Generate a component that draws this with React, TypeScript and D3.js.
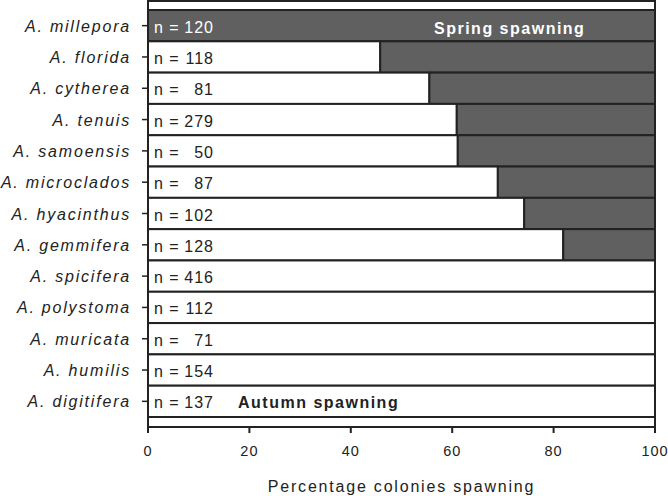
import React, { useEffect, useRef } from 'react';
import * as d3 from 'd3';

const species = [
  'A. millepora', 'A. florida', 'A. cytherea', 'A. tenuis', 'A. samoensis',
  'A. microclados', 'A. hyacinthus', 'A. gemmifera', 'A. spicifera',
  'A. polystoma', 'A. muricata', 'A. humilis', 'A. digitifera'
];
const nColonies = [120, 118, 81, 279, 50, 87, 102, 128, 416, 112, 71, 154, 137];
// percent of colonies spawning in autumn (white part), rest is spring
const autumnPct = [0, 45.8, 55.5, 60.9, 61.1, 69.0, 74.2, 81.9, 100, 100, 100, 100, 100];
const xTicks = [0, 20, 40, 60, 80, 100];

const FONT = 'Arial, "Liberation Sans", sans-serif';

export default function App() {
  const svgRef = useRef<SVGSVGElement>(null);

  useEffect(() => {
    const svg = d3.select(svgRef.current);
    svg.selectAll('*').remove();

    const x = d3.scaleLinear().domain([0, 100]).range([148, 655]);
    const y = d3.scaleBand().domain(species).range([10, 417]).padding(0);
    const top = 1, bottom = 427;

    // frame (thin strips above first row and below last row)
    svg.append('rect')
      .attr('x', x(0)).attr('y', top)
      .attr('width', x(100) - x(0)).attr('height', bottom - top)
      .attr('fill', '#fff').attr('stroke', '#222').attr('stroke-width', 2);

    const rows = svg.append('g').selectAll('g')
      .data(species)
      .enter().append('g');

    // autumn part (white)
    rows.append('rect')
      .attr('x', x(0))
      .attr('y', d => y(d)!)
      .attr('width', (d, i) => x(autumnPct[i]) - x(0))
      .attr('height', y.bandwidth())
      .attr('fill', '#fff')
      .attr('stroke', '#222').attr('stroke-width', 2);

    // spring part (dark)
    rows.filter((d, i) => autumnPct[i] < 100)
      .append('rect')
      .attr('x', (d) => x(autumnPct[species.indexOf(d)]))
      .attr('y', d => y(d)!)
      .attr('width', (d) => x(100) - x(autumnPct[species.indexOf(d)]))
      .attr('height', y.bandwidth())
      .attr('fill', '#606060')
      .attr('stroke', '#222').attr('stroke-width', 2);

    // n labels
    const nLab = rows.append('g')
      .attr('font-family', FONT).attr('font-size', 16)
      .attr('letter-spacing', 1)
      .attr('fill', (d, i) => autumnPct[i] === 0 ? '#fff' : '#222');
    nLab.append('text')
      .attr('x', 154)
      .attr('y', d => y(d)! + y.bandwidth() / 2 + 7)
      .text('n =');
    nLab.append('text')
      .attr('x', 214).attr('text-anchor', 'end')
      .attr('y', d => y(d)! + y.bandwidth() / 2 + 7)
      .text((d, i) => nColonies[i]);

    // left axis
    svg.append('line')
      .attr('x1', x(0)).attr('x2', x(0))
      .attr('y1', top).attr('y2', bottom + 5)
      .attr('stroke', '#222').attr('stroke-width', 2);
    const yAx = svg.append('g').selectAll('g').data(species).enter().append('g');
    yAx.append('line')
      .attr('x1', x(0) - 6).attr('x2', x(0))
      .attr('y1', d => y(d)! + y.bandwidth() / 2)
      .attr('y2', d => y(d)! + y.bandwidth() / 2)
      .attr('stroke', '#222').attr('stroke-width', 1.5);
    yAx.append('text')
      .attr('x', 131).attr('text-anchor', 'end')
      .attr('y', d => y(d)! + y.bandwidth() / 2 + 6)
      .attr('font-family', FONT).attr('font-size', 16)
      .attr('font-style', 'italic').attr('letter-spacing', 1.8)
      .attr('fill', '#222')
      .text(d => d);

    // bottom axis
    svg.append('line')
      .attr('x1', x(0)).attr('x2', x(100))
      .attr('y1', bottom).attr('y2', bottom)
      .attr('stroke', '#222').attr('stroke-width', 2);
    const xAx = svg.append('g').selectAll('g').data(xTicks).enter().append('g')
      .attr('transform', d => `translate(${x(d)},0)`);
    xAx.append('line')
      .attr('y1', bottom).attr('y2', bottom + 6)
      .attr('stroke', '#222').attr('stroke-width', 2);
    xAx.append('text')
      .attr('y', 456).attr('text-anchor', 'middle')
      .attr('font-family', FONT).attr('font-size', 14.5).attr('letter-spacing', 1)
      .attr('fill', '#222')
      .text(d => d);

    svg.append('text')
      .attr('x', (x(0) + x(100)) / 2).attr('y', 492)
      .attr('text-anchor', 'middle')
      .attr('font-family', FONT).attr('font-size', 16).attr('letter-spacing', 1.8)
      .attr('fill', '#222')
      .text('Percentage colonies spawning');

    // annotations
    svg.append('text')
      .attr('x', 434).attr('y', y(species[0])! + y.bandwidth() / 2 + 8)
      .attr('font-family', FONT).attr('font-size', 16).attr('font-weight', 'bold')
      .attr('letter-spacing', 1.5).attr('fill', '#fff')
      .text('Spring spawning');
    svg.append('text')
      .attr('x', 238).attr('y', y(species[species.length - 1])! + y.bandwidth() / 2 + 7)
      .attr('font-family', FONT).attr('font-size', 16).attr('font-weight', 'bold')
      .attr('letter-spacing', 1.5).attr('fill', '#222')
      .text('Autumn spawning');
  }, []);

  return (
    <svg ref={svgRef} width={668} height={496}
      style={{ position: 'absolute', left: 0, top: 0, background: '#fff' }} />
  );
}
